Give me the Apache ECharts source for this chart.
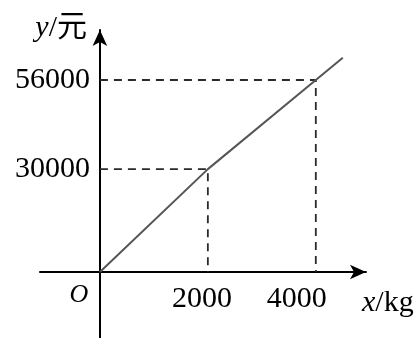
<!DOCTYPE html>
<html>
<head>
<meta charset="utf-8">
<script src="https://cdn.jsdelivr.net/npm/echarts@6/dist/echarts.min.js"></script>
<style>
  html, body { margin: 0; padding: 0; background: #fff; }
  #chart { width: 419px; height: 338px; }
</style>
</head>
<body>
<div id="chart"></div>
<script>
// 折线上的点 (x 千克, y 元)
const xValues = [0, 2000, 4000, 4500]
const yValues = [0, 30000, 56000, 62500]
// 坐标轴上标出的刻度
const xTicks = [2000, 4000]
const yTicks = [30000, 56000]

const serif = "'Liberation Serif', 'Noto Sans CJK SC', serif"
const chart = echarts.init(document.getElementById('chart'))

const lineData = xValues.map((x, i) => [x, yValues[i]])

// 虚线：从 y 轴到点，再垂直落到 x 轴
const guides = xTicks.map((x, i) => ({
  type: 'line',
  silent: true,
  showSymbol: false,
  lineStyle: { color: '#2a2a2a', width: 1.8, type: [8, 6] },
  data: [[0, yTicks[i]], [x, yTicks[i]], [x, 0]]
}))

const xMax = 4930
const yMax = 70583

// grid 0：整幅坐标轴（含负半轴），grid 1：只放刻度文字和轴名，原点在左下角
const arrowLine = {
  onZero: true,
  symbol: ['none', 'arrow'],
  symbolSize: [11, 16],
  lineStyle: { color: '#000', width: 2 }
}
const italic = { fontStyle: 'italic', fontFamily: serif, fontSize: 30, color: '#000' }

chart.setOption({
  backgroundColor: '#fff',
  animation: false,
  grid: [
    { left: 40, right: 53, top: 30, bottom: 0, outerBoundsMode: 'none', containLabel: false },
    { left: 100, right: 53, top: 30, bottom: 66, outerBoundsMode: 'none', containLabel: false }
  ],
  xAxis: [{
    type: 'value',
    gridIndex: 0,
    min: -1110,
    max: xMax,
    axisLine: arrowLine,
    axisTick: { show: false },
    axisLabel: { show: false },
    splitLine: { show: false }
  }, {
    type: 'value',
    gridIndex: 1,
    min: 0,
    max: xMax,
    name: '{i|x}/kg',
    nameLocation: 'end',
    nameGap: -4,
    nameTextStyle: {
      fontFamily: serif,
      fontSize: 30,
      color: '#000',
      align: 'left',
      verticalAlign: 'top',
      padding: [16, 0, 0, 0],
      rich: { i: italic }
    },
    axisLine: { show: false },
    axisTick: { show: false },
    splitLine: { show: false },
    axisLabel: {
      customValues: xTicks,
      margin: 12,
      fontFamily: serif,
      fontSize: 30,
      color: '#000',
      formatter: v => (v === 4000 ? '{b|' + v + '}' : '{a|' + v + '}'),
      rich: {
        a: { fontFamily: serif, fontSize: 30, color: '#000', padding: [0, 12, 0, 0] },
        b: { fontFamily: serif, fontSize: 30, color: '#000', padding: [0, 38, 0, 0] }
      }
    }
  }],
  yAxis: [{
    type: 'value',
    gridIndex: 0,
    min: -19250,
    max: yMax,
    axisLine: arrowLine,
    axisTick: { show: false },
    axisLabel: { show: false },
    splitLine: { show: false }
  }, {
    type: 'value',
    gridIndex: 1,
    min: 0,
    max: yMax,
    name: '{i|y}/元',
    nameLocation: 'end',
    nameGap: 2,
    nameTextStyle: {
      fontFamily: serif,
      fontSize: 30,
      color: '#000',
      align: 'right',
      verticalAlign: 'middle',
      padding: [0, 13, 0, 0],
      rich: { i: italic }
    },
    axisLine: { show: false },
    axisTick: { show: false },
    splitLine: { show: false },
    axisLabel: {
      customValues: yTicks,
      margin: 10,
      fontFamily: serif,
      fontSize: 30,
      color: '#000',
      formatter: v => String(v)
    }
  }],
  graphic: [{
    type: 'text',
    style: {
      text: 'O',
      x: 79,
      y: 295,
      align: 'center',
      verticalAlign: 'middle',
      font: 'italic 26px ' + serif,
      fill: '#000'
    }
  }],
  series: [
    ...guides,
    {
      type: 'line',
      showSymbol: false,
      lineStyle: { color: '#555', width: 2 },
      data: lineData
    }
  ]
})
</script>
</body>
</html>
